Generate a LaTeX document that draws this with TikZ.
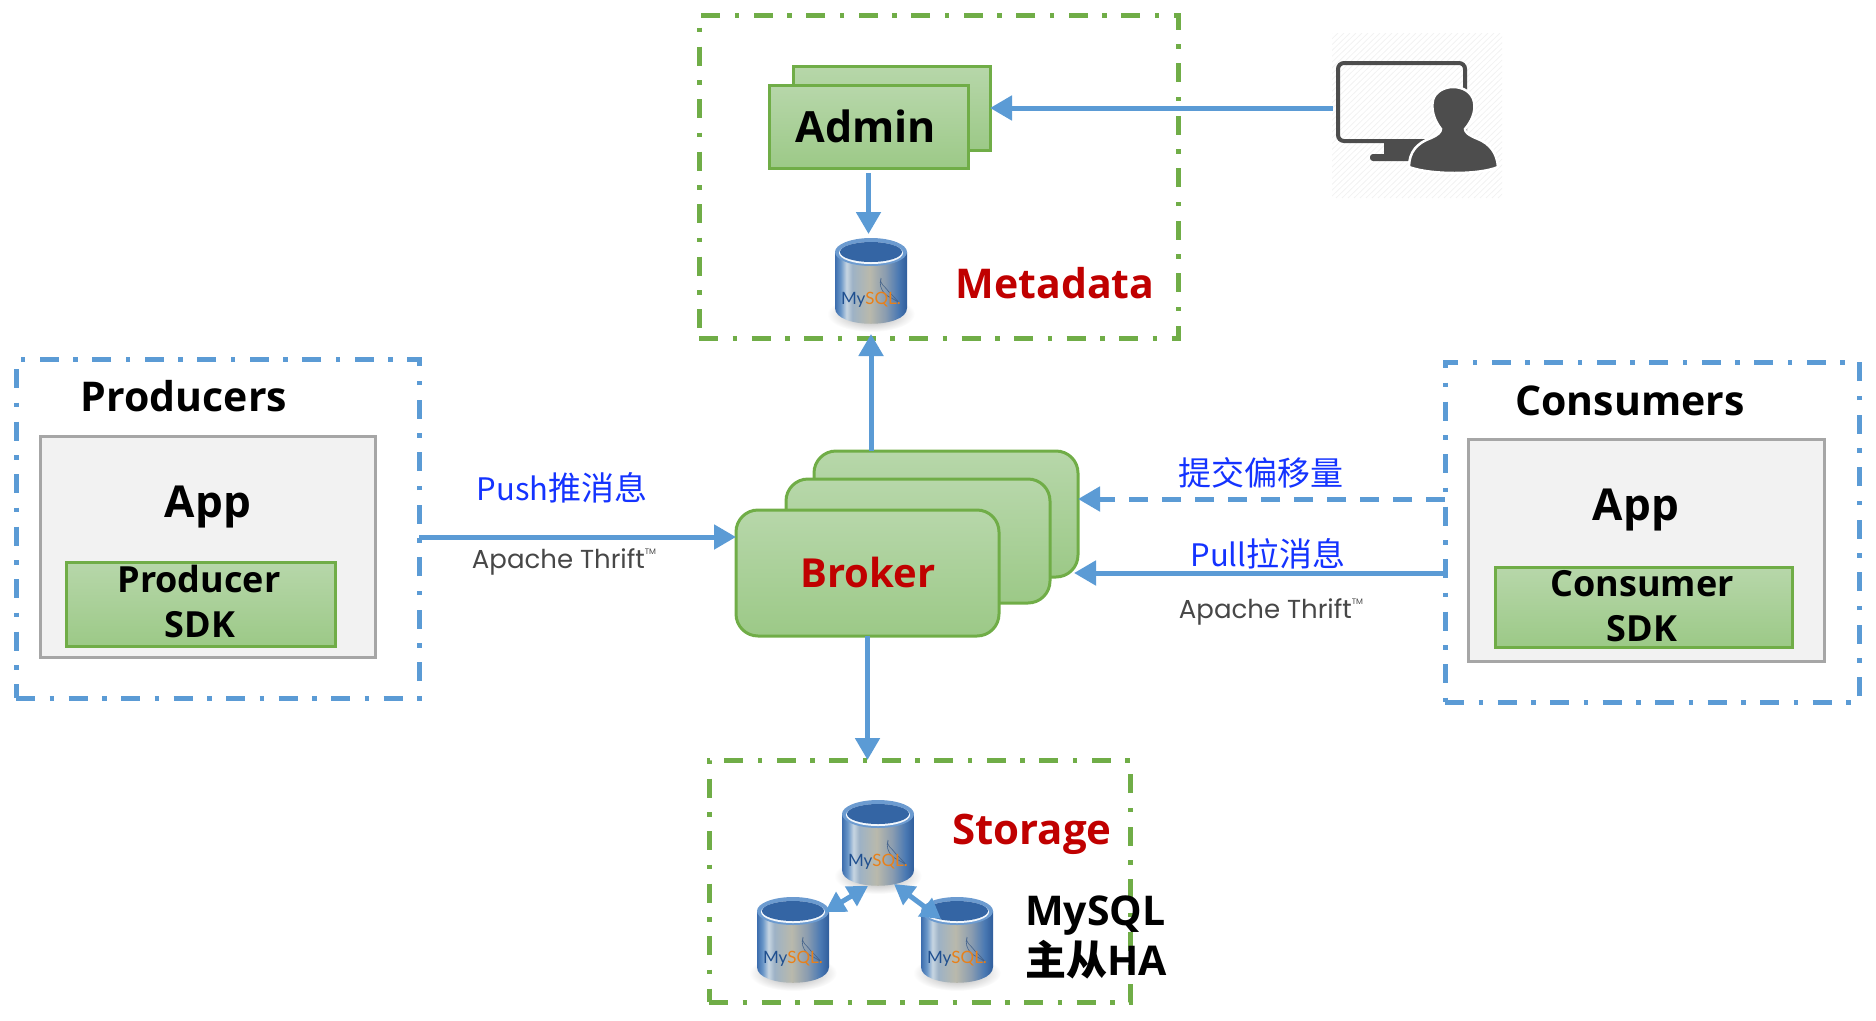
\documentclass[tikz,border=0pt]{standalone}
\usepackage{fontspec}
\setmainfont{Open Sans}
\newfontfamily\cjk{Noto Sans CJK SC}
\newfontfamily\thrift{Lato}
\newfontfamily\thriftb{Poppins}
\usetikzlibrary{arrows.meta,calc}
\definecolor{gline}{HTML}{70AD47}
\definecolor{bline}{HTML}{5B9BD5}
\definecolor{gtop}{HTML}{B7D7AA}
\definecolor{gbot}{HTML}{9CC987}
\definecolor{redt}{HTML}{C00000}
\definecolor{bluet}{HTML}{1433FF}
\definecolor{iconc}{HTML}{4D4D4D}
\definecolor{dba}{HTML}{3C6DAE}
\definecolor{dbb}{HTML}{6A97C8}
\definecolor{dbc}{HTML}{C8D6E2}
\definecolor{dbd}{HTML}{9DB2C6}
\definecolor{dbe}{HTML}{B9B9AC}
\definecolor{dbf}{HTML}{8A9CB0}
\definecolor{dbg}{HTML}{4A79B3}
\definecolor{dbh}{HTML}{2F5D9C}
\definecolor{dbrim}{HTML}{6C9BD0}
\definecolor{dbtop}{HTML}{3465A4}
\definecolor{dbfish}{HTML}{46648C}
\definecolor{mysqlb}{HTML}{1F4F8F}
\definecolor{mysqlo}{HTML}{E8801A}
\pgfdeclarehorizontalshading{dbbody}{100bp}{
 color(0bp)=(dba); color(25bp)=(dba); color(29bp)=(dbb); color(33bp)=(dbc); color(37bp)=(dbd); color(49bp)=(dbe); color(60bp)=(dbf); color(69bp)=(dbg); color(75bp)=(dbh); color(100bp)=(dbh)}
\tikzset{
 frameg/.style={draw=gline,line width=5pt,dash pattern=on 19pt off 14.5pt on 4.5pt off 14.5pt,inner sep=0pt,outer sep=0pt},
 frameb/.style={draw=bline,line width=5pt,dash pattern=on 19pt off 14.5pt on 4.5pt off 14.5pt,inner sep=0pt,outer sep=0pt},
 gbox/.style={draw=gline,line width=3pt,top color=gtop,bottom color=gbot,inner sep=0pt,outer sep=0pt},
 gbroker/.style={gbox,rounded corners=22pt},
 appbox/.style={draw=black!35,fill=black!5,line width=3pt,inner sep=0pt,outer sep=0pt},
 ghost/.style={inner sep=0pt,outer sep=0pt},
 arr/.style={draw=bline,line width=5pt,-{Triangle[length=22pt,width=24pt]}},
 darr/.style={draw=bline,line width=5pt,{Triangle[length=20pt,width=22pt]}-{Triangle[length=20pt,width=22pt]}},
 titleb/.style={anchor=base,font=\fontsize{41}{41}\selectfont\bfseries,text=black,inner sep=0pt},
 titler/.style={anchor=base,font=\fontsize{41}{41}\selectfont\bfseries,text=redt,inner sep=0pt},
 sdkt/.style={anchor=base,font=\fontsize{36}{36}\selectfont\bfseries,text=black,inner sep=0pt},
 bluel/.style={anchor=base,font=\cjk\fontsize{33}{33}\selectfont,text=bluet,inner sep=0pt},
 thriftl/.style={anchor=base,font=\thriftb\fontsize{26}{26}\selectfont,text=black!72,inner sep=0pt}
}
\newcommand\bxx[6]{\pgfmathsetmacro\bw{#4-#2}\pgfmathsetmacro\bh{#5-#3}\node[#6,minimum width=\bw pt,minimum height=\bh pt] (#1) at ({((#2)+(#4))/2},{((#3)+(#5))/2}) {};}
\newcommand\tmtext{Apache Thrift\raisebox{14pt}{\fontsize{8}{8}\selectfont TM}}
\newcommand\ltn[1]{{\fontsize{31}{31}\selectfont #1}}
% cylinder: name, centre x, top y, with the local drawing 72 wide, 86 high
\newcommand\dbat[3]{%
 \node[ghost,minimum width=72pt,minimum height=86pt] (#1) at (#2,#3+43) {};
 \begin{scope}[shift={(#2,#3)}]
  \shade[inner color=black!38,outer color=white] (0,76) ellipse [x radius=44,y radius=18];
  \shade[shading=dbbody] (-36,14) -- (-36,70) .. controls (-36,91) and (36,91) .. (36,70) -- (36,14) -- cycle;
  \fill[dbrim] (0,14) ellipse [x radius=36,y radius=14];
  \fill[white!92!bline] (0,15) ellipse [x radius=32,y radius=11];
  \fill[dbtop] (0,14) ellipse [x radius=31,y radius=10];
  \draw[dbfish,line width=.6pt] (10,40) .. controls (8,46) and (14,48) .. (18,54) .. controls (22,58) and (26,62) .. (29,66) .. controls (23,60) and (18,60) .. (14,56) .. controls (10,52) and (8,46) .. (10,40);
  \node[ghost,anchor=base,font=\thrift\fontsize{17}{17}\selectfont] at (0,66) {\textcolor{mysqlb}{My}\textcolor{mysqlo}{SQL.}};
 \end{scope}}
\begin{document}
\begin{tikzpicture}[x=1pt,y=-1pt]
\useasboundingbox (0,0) rectangle (1876,1020);
% frames
\bxx{metadata}{699}{15}{1178}{338}{frameg}
\bxx{storage}{709}{760}{1130}{1002}{frameg}
\bxx{producers}{16}{359}{419}{698}{frameb}
\bxx{consumers}{1445}{362}{1859}{702}{frameb}
% admin
\bxx{adminB}{793}{66}{990}{150}{gbox}
\bxx{adminF}{769}{85}{968}{168}{gbox}
\node[titleb,font=\fontsize{43}{43}\selectfont\bfseries] (admint) at (866,142) {Admin};
% icon
\begin{scope}
 \clip (1332,33) rectangle (1502,198);
 \foreach \i in {0,6,...,340} \draw[black!5,line width=.8pt] (1332+\i-170,198) -- (1332+\i,33);
\end{scope}
\bxx{monitor}{1337}{61}{1467}{142}{ghost}
\draw[iconc,line width=4pt,rounded corners=6pt] (1338,63) rectangle (1465,141);
\fill[iconc] (1384,142) rectangle (1420,156);
\fill[iconc,rounded corners=3pt] (1370,154) rectangle (1420,161);
\path[fill=iconc,draw=white,line width=2.5pt] (1409,167) .. controls (1409,152) and (1417,143) .. (1431,138) .. controls (1438,135) and (1441,132) .. (1441,129) .. controls (1434,120) and (1431,110) .. (1433,100) .. controls (1435,92) and (1444,87) .. (1453,87) .. controls (1463,87) and (1472,92) .. (1474,102) .. controls (1476,112) and (1471,122) .. (1465,129) .. controls (1465,132) and (1468,135) .. (1478,139) .. controls (1490,144) and (1497,153) .. (1498,167) .. controls (1480,175) and (1430,175) .. (1409,167) -- cycle;
% databases
\dbat{dbM}{871}{238}
\dbat{dbT}{878}{800}
\dbat{dbL}{793}{897}
\dbat{dbR}{957}{897}
\node[titler] (metat) at (1055,298) {Metadata};
\node[titler,font=\fontsize{42}{42}\selectfont\bfseries] (stort) at (1032,844) {Storage};
\node[titleb,anchor=base west] (myt) at (1025,925) {MySQL};
\node[titleb,anchor=base west] (hat) at (1025,975) {{\cjk\bfseries 主从}HA};
% brokers
\bxx{brokerC}{814}{451}{1078}{577}{gbroker}
\bxx{brokerB}{786}{479}{1050}{603}{gbroker}
\bxx{brokerA}{736}{510}{999}{636}{gbroker}
\node[titler,font=\fontsize{40}{40}\selectfont\bfseries] (brokert) at (868,587) {Broker};
% producers
\node[titleb] (prodt) at (184,411) {Producers};
\bxx{appL}{40}{436}{375}{657}{appbox}
\node[titleb,font=\fontsize{44}{44}\selectfont\bfseries] (appLt) at (208,517) {App};
\bxx{sdkL}{66}{562}{335}{646}{gbox}
\node[sdkt] (sdkLa) at (199,592) {Producer};
\node[sdkt] (sdkLb) at (200,637) {SDK};
% consumers
\node[titleb] (const) at (1630,415) {Consumers};
\bxx{appR}{1468}{439}{1824}{661}{appbox}
\node[titleb,font=\fontsize{44}{44}\selectfont\bfseries] (appRt) at (1636,520) {App};
\bxx{sdkR}{1495}{567}{1792}{647}{gbox}
\node[sdkt] (sdkRa) at (1642,596) {Consumer};
\node[sdkt] (sdkRb) at (1642,641) {SDK};
% connector levels
\coordinate (pushy) at (0,537);
\coordinate (dashy) at (0,499);
\coordinate (pully) at (0,573);
% connectors
\draw[arr,shorten <=4pt] (adminB.east -| monitor.west) -- (adminB.east);
\draw[arr,shorten <=5pt,shorten >=4pt] (adminF.south) -- (dbM.north -| adminF.south);
\draw[arr,shorten >=-4pt] (dbM.south |- brokerC.north) -- (dbM.south |- metadata.south);
\draw[arr] (brokerA.south) -- (brokerA.south |- storage.north);
\draw[arr] (pushy -| producers.east) -- (pushy -| brokerA.west);
\draw[arr,dash pattern=on 19pt off 14pt] (dashy -| consumers.west) -- (dashy -| brokerC.east);
\draw[arr,shorten >=-4pt] (pully -| consumers.west) -- (pully -| brokerC.east);
\draw[darr] ($(dbT.south)+(-10,0)$) -- ($(dbL.north east)+(-4,15)$);
\draw[darr] ($(dbT.south)+(16,-2)$) -- ($(dbR.north west)+(20,22)$);
% labels
\node[bluel] (pusht) at (562,500) {\ltn{Push}推消息};
\node[thriftl] (thrL) at (564,568) {\tmtext};
\node[bluel] (offt) at (1261,485) {提交偏移量};
\node[bluel] (pullt) at (1268,566) {\ltn{Pull}拉消息};
\node[thriftl] (thrR) at (1271,618) {\tmtext};
\end{tikzpicture}
\end{document}
